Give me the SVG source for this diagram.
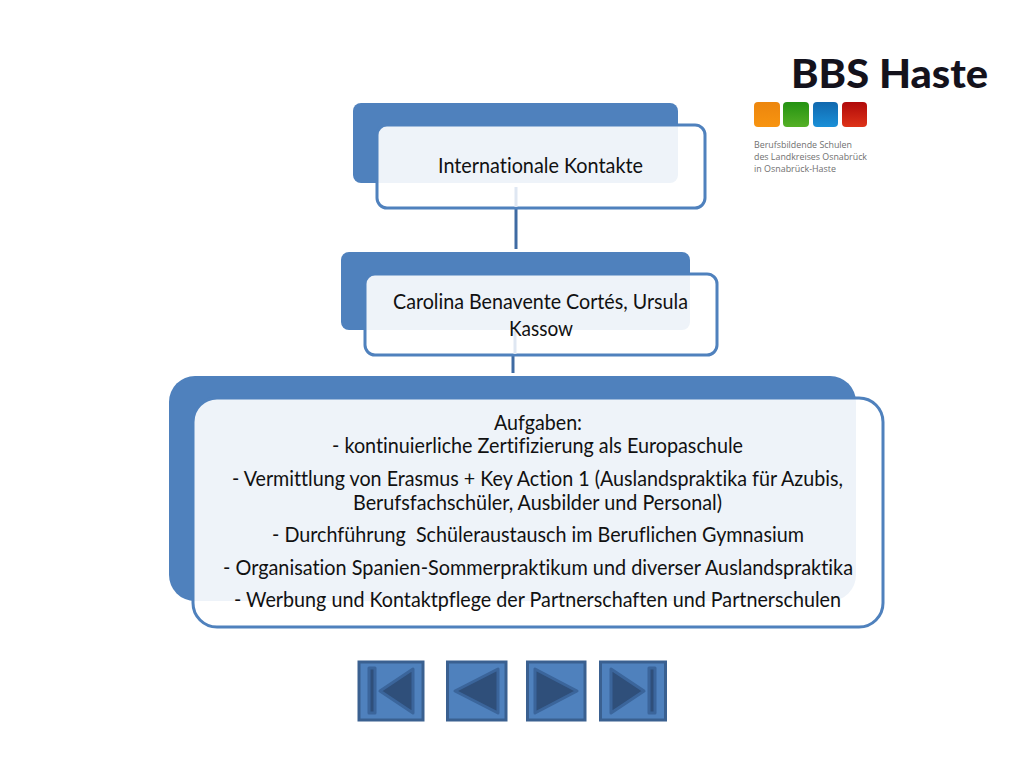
<svg xmlns="http://www.w3.org/2000/svg" width="1024" height="768" viewBox="0 0 1024 768">
<style>
.back{fill:#4f81bd}
.front{fill:#fff;fill-opacity:.9;stroke:#4f81bd;stroke-width:3}
.conn{stroke:#3f6ba3;stroke-width:3;fill:none}
.connp{stroke:#dfe7f2;stroke-width:3;fill:none}
.t{font-family:Lato,"Liberation Sans",sans-serif;font-size:21px;fill:#111;font-variant-ligatures:none}
.btn{fill:#4f81bd;stroke:#3a6090;stroke-width:3}
.ico{fill:#2f4f7a;stroke:#3b659b;stroke-width:3;stroke-linejoin:round}
.sq{stroke:none}
.small{font-family:"Open Sans",sans-serif;font-size:9px;fill:#707070;font-variant-ligatures:none}
</style>
<defs>
<linearGradient id="go" x1="0" y1="0" x2="0" y2="1"><stop offset="0" stop-color="#ec860e"/><stop offset="1" stop-color="#f89410"/></linearGradient>
<linearGradient id="gg" x1="0" y1="0" x2="0" y2="1"><stop offset="0" stop-color="#249212"/><stop offset="1" stop-color="#55b026"/></linearGradient>
<linearGradient id="gb" x1="0" y1="0" x2="0" y2="1"><stop offset="0" stop-color="#1168ae"/><stop offset="1" stop-color="#1a90d8"/></linearGradient>
<linearGradient id="gr" x1="0" y1="0" x2="0" y2="1"><stop offset="0" stop-color="#b00a0a"/><stop offset="1" stop-color="#de3318"/></linearGradient>
</defs>
<rect width="1024" height="768" fill="#fff"/>
<g id="connectors">
<line class="conn" x1="516" y1="208" x2="516" y2="249"/>
<line class="conn" x1="513" y1="355" x2="513" y2="373"/>
</g>
<g id="node1">
<rect class="back" x="353" y="103" width="325" height="80" rx="8"/>
<rect class="front" x="377" y="125" width="328" height="83" rx="10"/>
<line class="connp" x1="516" y1="187" x2="516" y2="207"/>
<text class="t" x="438" y="173" textLength="205" lengthAdjust="spacingAndGlyphs">Internationale Kontakte</text>
</g>
<g id="node2">
<rect class="back" x="341" y="252" width="349" height="78" rx="8"/>
<rect class="front" x="365" y="274" width="352" height="81" rx="10"/>
<line class="connp" x1="515" y1="331" x2="515" y2="354"/>
<text class="t" x="393" y="309" textLength="295" lengthAdjust="spacingAndGlyphs">Carolina Benavente Cortés, Ursula</text>
<text class="t" x="509" y="336" textLength="64" lengthAdjust="spacingAndGlyphs">Kassow</text>
</g>
<g id="node3">
<rect class="back" x="169" y="376" width="687" height="225" rx="26"/>
<rect class="front" x="193" y="398" width="690" height="229" rx="24"/>
<text class="t" x="494" y="430" textLength="88" lengthAdjust="spacingAndGlyphs">Aufgaben:</text>
<text class="t" x="332" y="453" textLength="411" lengthAdjust="spacingAndGlyphs">- kontinuierliche Zertifizierung als Europaschule</text>
<text class="t" x="232" y="486" textLength="611" lengthAdjust="spacingAndGlyphs">- Vermittlung von Erasmus + Key Action 1 (Auslandspraktika für Azubis,</text>
<text class="t" x="353" y="510" textLength="369" lengthAdjust="spacingAndGlyphs">Berufsfachschüler, Ausbilder und Personal)</text>
<text class="t" x="272" y="542" textLength="532" lengthAdjust="spacingAndGlyphs" xml:space="preserve">- Durchführung  Schüleraustausch im Beruflichen Gymnasium</text>
<text class="t" x="223" y="575" textLength="630" lengthAdjust="spacingAndGlyphs">- Organisation Spanien-Sommerpraktikum und diverser Auslandspraktika</text>
<text class="t" x="234" y="607" textLength="607" lengthAdjust="spacingAndGlyphs">- Werbung und Kontaktpflege der Partnerschaften und Partnerschulen</text>
</g>
<g id="logo">
<text x="791" y="88" textLength="197" lengthAdjust="spacingAndGlyphs" font-family="Lato,'Noto Sans',sans-serif" font-weight="900" font-size="39" fill="#14121c">BBS Haste</text>
<rect class="sq" x="754" y="102" width="26" height="25" rx="4" fill="url(#go)"/>
<rect class="sq" x="783" y="102" width="26" height="25" rx="4" fill="url(#gg)"/>
<rect class="sq" x="813" y="102" width="25" height="25" rx="4" fill="url(#gb)"/>
<rect class="sq" x="842" y="102" width="25" height="25" rx="4" fill="url(#gr)"/>
<text class="small" x="754" y="148" textLength="98" lengthAdjust="spacingAndGlyphs">Berufsbildende Schulen</text>
<text class="small" x="754" y="160" textLength="113" lengthAdjust="spacingAndGlyphs">des Landkreises Osnabrück</text>
<text class="small" x="754" y="172" textLength="82" lengthAdjust="spacingAndGlyphs">in Osnabrück-Haste</text>
</g>
<g id="btn-first">
<rect class="btn" x="359" y="662" width="64" height="58"/>
<rect class="ico" x="369" y="668" width="6" height="45"/>
<polygon class="ico" points="380,691 413,669 413,713"/>
</g>
<g id="btn-prev">
<rect class="btn" x="447.500" y="662" width="58.500" height="58"/>
<polygon class="ico" points="455,691 498,669 498,713"/>
</g>
<g id="btn-next">
<rect class="btn" x="527.500" y="662" width="57.500" height="58"/>
<polygon class="ico" points="535,669 535,713 577,691"/>
</g>
<g id="btn-last">
<rect class="btn" x="600.500" y="662" width="65" height="58"/>
<polygon class="ico" points="611,669 611,713 644,691"/>
<rect class="ico" x="649" y="668" width="6" height="45"/>
</g>
</svg>
